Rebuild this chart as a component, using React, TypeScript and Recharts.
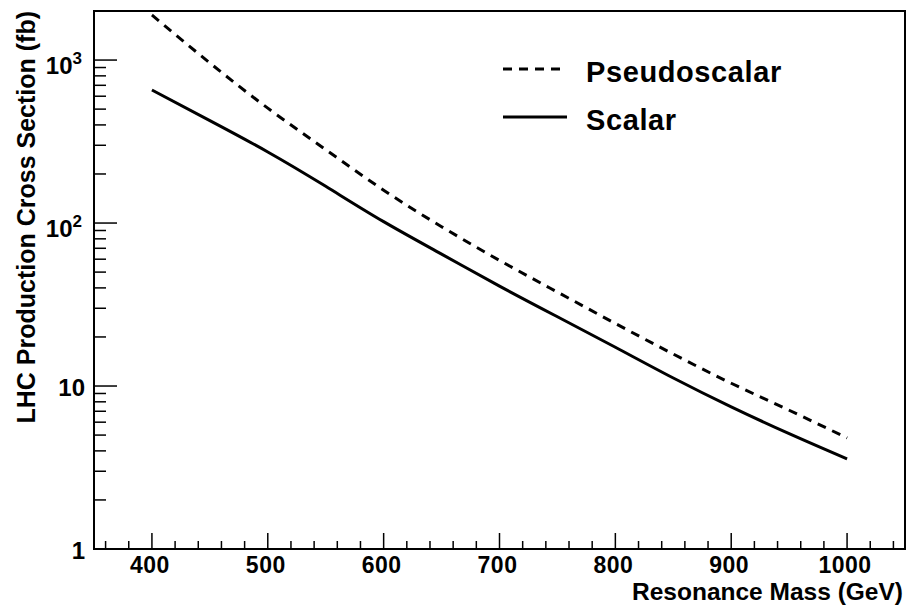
import { LineChart, Line, XAxis, YAxis, ReferenceArea, Legend } from 'recharts'

// resonance mass (GeV) and cross sections (fb)
const masses = [400, 450, 500, 550, 600, 650, 700, 750, 800, 850, 900, 950, 1000]
const pseudoscalar = [1890, 960, 507, 282, 159, 95, 59, 37.7, 24.2, 15.7, 10.4, 7.1, 4.8]
const scalar = [655, 425, 273, 168, 102, 64.5, 41, 26.6, 17.3, 11.2, 7.45, 5.1, 3.57]

const xTicks = [360, 380, 400, 420, 440, 460, 480, 500, 520, 540, 560, 580, 600, 620, 640, 660, 680, 700,
  720, 740, 760, 780, 800, 820, 840, 860, 880, 900, 920, 940, 960, 980, 1000, 1020, 1040]
const xMajor = [400, 500, 600, 700, 800, 900, 1000]

const yTicks = [1, 2, 3, 4, 5, 6, 7, 8, 9, 10, 20, 30, 40, 50, 60, 70, 80, 90,
  100, 200, 300, 400, 500, 600, 700, 800, 900, 1000, 2000]
const yMajor = [1, 10, 100, 1000]
const yExp = ['', '', '2', '3']

const data = masses.map((m, i) => ({ mass: m, pseudo: pseudoscalar[i], scalar: scalar[i] }))

const FONT = '"Liberation Sans", Arial, Helvetica, sans-serif'

function XTick({ x, y, payload }: any) {
  const major = xMajor.includes(payload.value)
  return (
    <g>
      <line x1={x} y1={y} x2={x} y2={y - (major ? 16 : 8)} stroke="#000" strokeWidth={1.5} />
      {major && (
        <text x={x - 2} y={y + 24} textAnchor="middle" fontFamily={FONT} fontWeight="bold" fontSize={23}
          letterSpacing={0.5} fill="#000">
          {payload.value}
        </text>
      )}
    </g>
  )
}

function YTick({ x, y, payload }: any) {
  const idx = yMajor.indexOf(payload.value)
  const major = idx >= 0
  const exp = major ? yExp[idx] : ''
  return (
    <g>
      <line x1={x} y1={y} x2={x + (major ? 23 : 12)} y2={y} stroke="#000" strokeWidth={1.5} />
      {major && (
        exp ? (
          <text x={x - 12} y={y + 14} textAnchor="end" fontFamily={FONT} fontWeight="bold" fontSize={24} fill="#000">
            10<tspan dy={-10} fontSize={17}>{exp}</tspan>
          </text>
        ) : (
          <text x={x - 9} y={y + 10} textAnchor="end" fontFamily={FONT} fontWeight="bold" fontSize={24} fill="#000">
            {payload.value}
          </text>
        )
      )}
    </g>
  )
}

function LegendBox({ payload }: any) {
  return (
    <svg width={320} height={110}>
      {(payload || []).map((item: any, i: number) => (
        <g key={item.value}>
          <line x1={3} x2={67} y1={24 + i * 48} y2={24 + i * 48} stroke="#000" strokeWidth={3}
            strokeDasharray={item.payload?.strokeDasharray} />
          <text x={86} y={37 + i * 48} fontFamily={FONT} fontWeight="bold" fontSize={29}
            letterSpacing={0.6} fill="#000">
            {item.value}
          </text>
        </g>
      ))}
    </svg>
  )
}

export default function App() {
  return (
    <div style={{ position: 'absolute', left: 0, top: 0, width: 907, height: 605, background: '#fff' }}>
      <LineChart width={907} height={605} data={data} margin={{ top: 11, right: 2, left: 0, bottom: 0 }}>
        <XAxis type="number" dataKey="mass" domain={[350, 1050]} ticks={xTicks} interval={0}
          allowDataOverflow axisLine={false} tickLine={false} tickSize={0} tickMargin={0} height={56} tick={<XTick />} />
        <YAxis type="number" scale="log" domain={[1, 2000]} ticks={yTicks} interval={0}
          allowDataOverflow axisLine={false} tickLine={false} tickSize={0} tickMargin={0} width={94} tick={<YTick />} />
        <ReferenceArea x1={350} x2={1050} y1={1} y2={2000} fill="none" stroke="#000" strokeWidth={2} />
        <Line type="natural" dataKey="pseudo" name="Pseudoscalar" stroke="#000" strokeWidth={3}
          strokeDasharray="9 7" dot={false} isAnimationActive={false} />
        <Line type="natural" dataKey="scalar" name="Scalar" stroke="#000" strokeWidth={3}
          dot={false} isAnimationActive={false} />
        <Legend layout="horizontal" verticalAlign="middle" align="center" content={<LegendBox />}
          wrapperStyle={{ left: 500, top: 45, width: 320, height: 110 }} />
      </LineChart>
      <svg width={907} height={605} style={{ position: 'absolute', left: 0, top: 0, pointerEvents: 'none' }}>
        <text transform="translate(35,11) rotate(-90)" textAnchor="end" fontFamily={FONT} fontWeight="bold" fontSize={25} fill="#000">
          LHC Production Cross Section (fb)
        </text>
        <text x={903} y={600} textAnchor="end" fontFamily={FONT} fontWeight="bold" fontSize={24.5} fill="#000">
          Resonance Mass (GeV)
        </text>
      </svg>
    </div>
  )
}
